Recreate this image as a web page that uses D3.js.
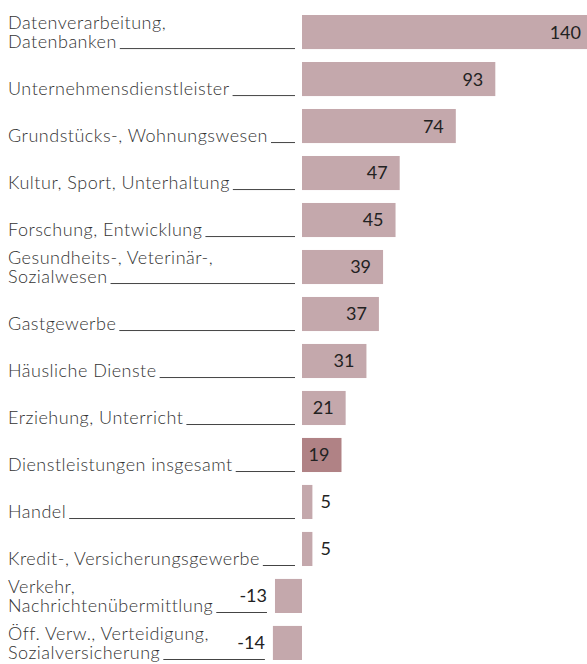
<!DOCTYPE html>
<html>
<head>
<meta charset="utf-8">
<script src="https://cdn.jsdelivr.net/npm/d3@7"></script>
<style>
  body { margin: 0; background: #fff; }
  svg { display: block; }
  .cat { font-family: Lato, "Open Sans", sans-serif; font-weight: 300; font-size: 18px; letter-spacing: 0.5px; fill: #333; }
  .val { font-family: Lato, "Open Sans", sans-serif; font-weight: 400; font-size: 18px; fill: #222; }
</style>
</head>
<body>
<div id="chart"></div>
<script>
// Kategorien (Zeilen der Beschriftung) und Werte
const categories = [
    ["Datenverarbeitung,", "Datenbanken"],
    ["Unternehmensdienstleister"],
    ["Grundstücks-, Wohnungswesen"],
    ["Kultur, Sport, Unterhaltung"],
    ["Forschung, Entwicklung"],
    ["Gesundheits-, Veterinär-,", "Sozialwesen"],
    ["Gastgewerbe"],
    ["Häusliche Dienste"],
    ["Erziehung, Unterricht"],
    ["Dienstleistungen insgesamt"],
    ["Handel"],
    ["Kredit-, Versicherungsgewerbe"],
    ["Verkehr,", "Nachrichtenübermittlung"],
    ["Öff. Verw., Verteidigung,", "Sozialversicherung"]
];
const values = [140, 93, 74, 47, 45, 39, 37, 31, 21, 19, 5, 5, -13, -14];
const totalIndex = 9; // "Dienstleistungen insgesamt" hervorgehoben

const width = 587, height = 664;

const svg = d3.select("#chart")
    .append("svg")
    .attr("width", width)
    .attr("height", height);

const y = d3.scaleBand()
    .domain(d3.range(values.length))
    .range([15, 660])
    .paddingInner(0.275);

const x = d3.scaleLinear()
    .domain([0, 140])
    .range([302, 593]);

// Balken
svg.selectAll(".bar")
    .data(values)
    .enter()
    .append("rect")
    .attr("class", "bar")
    .attr("x", d => x(Math.min(0, d)))
    .attr("y", (d, i) => y(i))
    .attr("width", d => Math.abs(x(d) - x(0)))
    .attr("height", y.bandwidth())
    .attr("fill", (d, i) => i === totalIndex ? "#b08285" : "#c4a8ac");

// Wertbeschriftung
svg.selectAll(".val")
    .data(values)
    .enter()
    .append("text")
    .attr("class", "val")
    .attr("y", (d, i) => y(i) + y.bandwidth() / 2)
    .attr("dy", "0.36em")
    .attr("x", d => d < 0 ? x(d) - 8 : (d < 10 ? x(d) + 8 : x(d) - 12))
    .attr("text-anchor", d => d < 0 || d >= 10 ? "end" : "start")
    .text(d => d);

// Kategorien mit Führungslinie
categories.forEach((lines, i) => {
    const base = y(i) + y.bandwidth() - 1;
    let lastText;
    lines.forEach((line, j) => {
        lastText = svg.append("text")
            .attr("class", "cat")
            .attr("x", 8)
            .attr("y", base - (lines.length - 1 - j) * 19.5)
            .text(line);
    });
    const textEnd = 8 + lastText.node().getComputedTextLength() + 3;
    const lineEnd = values[i] < 0 ? x(values[i]) - 8 : 295;
    svg.append("line")
        .attr("x1", textEnd)
        .attr("x2", lineEnd)
        .attr("y1", base + 0.5)
        .attr("y2", base + 0.5)
        .attr("stroke", "#444")
        .attr("stroke-width", 1);
});
</script>
</body>
</html>
